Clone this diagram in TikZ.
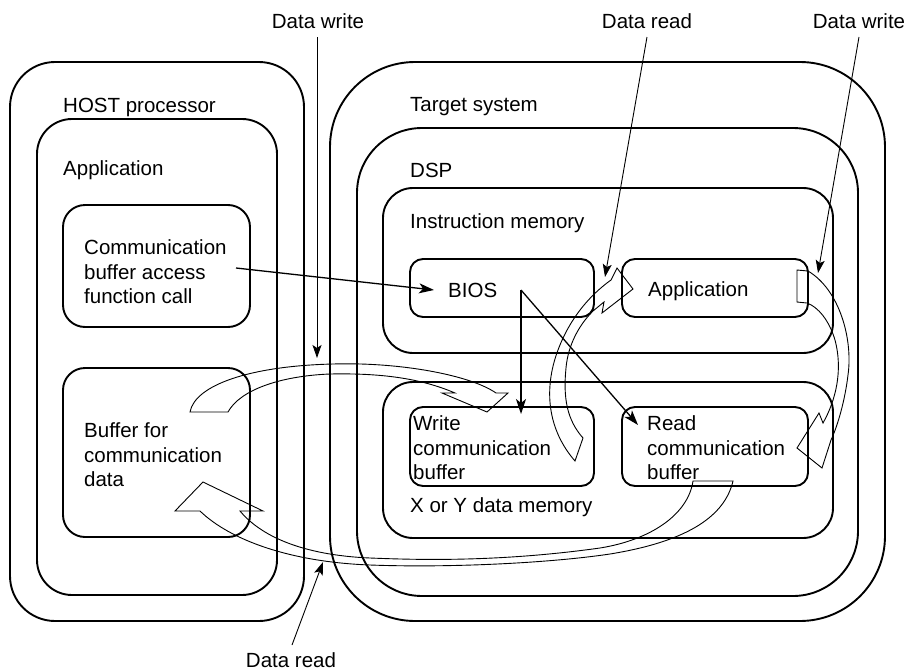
\documentclass[tikz,border=0pt]{standalone}
\usepackage{fontspec}
\setmainfont{Liberation Sans}
\usetikzlibrary{arrows.meta}
\begin{document}
\begin{tikzpicture}[x=1pt,y=-1pt,
  box/.style={draw, line width=1.9pt, rectangle, inner sep=0pt},
  lbl/.style={inner sep=0pt, anchor=west, align=left, font=\fontsize{20.5}{24.5}\selectfont},
  toplbl/.style={inner sep=0pt, font=\fontsize{20.5}{24.5}\selectfont},
  flow/.style={line width=0.9pt, -{Stealth[length=13pt,width=9pt,inset=3pt]}},
  call/.style={line width=1.3pt, -{Stealth[length=15pt,width=10pt,inset=4pt]}},
  band/.style={draw, line width=0.9pt, line join=miter}]
\useasboundingbox (0,0) rectangle (908,672);

% host side
\node[box, rounded corners=45pt, minimum width=294pt, minimum height=559pt] (host) at (157,341.5) {};
\node[box, rounded corners=35pt, minimum width=240pt, minimum height=476pt] (hostapp) at (157,357) {};
\node[box, rounded corners=22pt, minimum width=187pt, minimum height=122pt] (callbox) at (156.5,266) {};
\node[box, rounded corners=22pt, minimum width=187pt, minimum height=169pt] (bufbox) at (156.5,452.5) {};
\node[lbl] (hostlbl) at (63,107) {HOST processor};
\node[lbl] (hostapplbl) at (63,170) {Application};
\node[lbl] (calltext) at (84,272) {Communication\\buffer access\\function call};
\node[lbl] (buftext) at (84,455) {Buffer for\\communication\\data};

% target side
\node[box, rounded corners=85pt, minimum width=555pt, minimum height=559pt] (target) at (607.5,341.5) {};
\node[box, rounded corners=65pt, minimum width=501pt, minimum height=468pt] (dsp) at (607.5,362) {};
\node[box, rounded corners=30pt, minimum width=450pt, minimum height=165pt] (imem) at (608,270.5) {};
\node[box, rounded corners=30pt, minimum width=450pt, minimum height=156pt] (xymem) at (608,460) {};
\node[box, rounded corners=13pt, minimum width=184pt, minimum height=58pt] (bios) at (502,288) {};
\node[box, rounded corners=13pt, minimum width=186pt, minimum height=58pt] (dspapp) at (715,288) {};
\node[box, rounded corners=13pt, minimum width=184pt, minimum height=79pt] (wbuf) at (502,446.5) {};
\node[box, rounded corners=13pt, minimum width=186pt, minimum height=79pt] (rbuf) at (715,446.5) {};
\node[lbl] (targetlbl) at (410,107) {Target system};
\node[lbl] (dsplbl) at (410,170) {DSP};
\node[lbl] (imemlbl) at (410,223) {Instruction memory};
\node[lbl] (xymemlbl) at (410,507) {X or Y data memory};
\node[lbl] (biostext) at (448,290) {BIOS};
\node[lbl] (dspapptext) at (648,291) {Application};
\node[lbl] (wbuftext) at (413,448) {Write\\communication\\buffer};
\node[lbl] (rbuftext) at (647,448) {Read\\communication\\buffer};

% data access labels
\node[toplbl] (dwleft) at (318,21) {Data write};
\node[toplbl] (drtop) at (647,21) {Data read};
\node[toplbl] (dwright) at (859,21) {Data write};
\node[toplbl] (drbottom) at (291,660) {Data read};

% connector end points
\coordinate (dwlefts) at (317,37);
\coordinate (dwleftt) at (317,358);
\coordinate (drtops) at (647,37);
\coordinate (drtopt) at (605,277);
\coordinate (dwrights) at (859,37);
\coordinate (dwrightt) at (818,273);
\coordinate (drbottoms) at (292,645);
\coordinate (drbottomt) at (323,562);
\coordinate (callsrc) at (236,268);
\coordinate (calldst) at (434,290);
\coordinate (biossrc) at (521,290);
\coordinate (wbufdst) at (521,414);
\coordinate (rbufdst) at (638,425);

\draw[flow] (dwlefts) -- (dwleftt);
\draw[flow] (drtops) -- (drtopt);
\draw[flow] (dwrights) -- (dwrightt);
\draw[flow] (drbottoms) -- (drbottomt);
\draw[call] (callsrc) -- (calldst);
\draw[call] (biossrc) -- (wbufdst);
\draw[call] (biossrc) -- (rbufdst);

% hollow transfer arrows
% host buffer -> write communication buffer
\draw[band] (190,412) .. controls (195,385) and (250,366) .. (333,364)
  .. controls (400,362) and (470,375) .. (496,393) -- (508,393) -- (487,412)
  -- (442,393) -- (455,393) .. controls (420,378) and (380,373) .. (330,374)
  .. controls (280,376) and (240,390) .. (228,412) -- cycle;
% read communication buffer -> host buffer
\draw[band] (693,481) .. controls (688,515) and (650,540) .. (600,548)
  .. controls (500,562) and (420,560) .. (370,558)
  .. controls (300,555) and (260,535) .. (240,511) -- (263,511) -- (203,482)
  -- (175,511) -- (200,511) .. controls (230,540) and (290,562) .. (370,565)
  .. controls (450,568) and (550,563) .. (610,554)
  .. controls (690,541) and (725,515) .. (733,481) -- cycle;
% write communication buffer -> DSP application
\draw[band] (575,461) .. controls (548,430) and (543,390) .. (558,350)
  .. controls (570,318) and (590,295) .. (611,280) -- (617,268) -- (633,289)
  -- (602,313) -- (604,302) -- (593,311)
  .. controls (579,325) and (568,345) .. (566,368)
  .. controls (563,398) and (567,420) .. (583,438) -- cycle;
% DSP application -> read communication buffer
\draw[band] (797,270) -- (808,271) .. controls (840,290) and (853,340) .. (848,375)
  .. controls (845,400) and (838,425) .. (831,440) -- (822,468) -- (797,448)
  -- (819,413) -- (823,423) .. controls (836,400) and (843,370) .. (835,340)
  .. controls (829,320) and (818,307) .. (807,303) -- (797,302) -- cycle;
\end{tikzpicture}
\end{document}
